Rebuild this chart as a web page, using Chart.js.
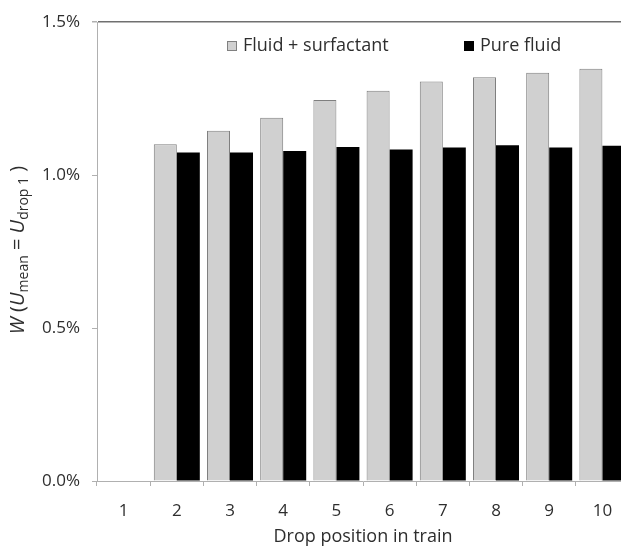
<!DOCTYPE html>
<html>
<head>
<meta charset="utf-8">
<script src="https://cdn.jsdelivr.net/npm/chart.js@4/dist/chart.umd.min.js"></script>
<style>
  html, body { margin: 0; padding: 0; background: #fff; overflow: hidden; }
  #wrap { width: 621px; height: 546px; overflow: hidden; position: relative; }
  canvas { display: block; }
</style>
</head>
<body>
<div id="wrap"><canvas id="c" width="640" height="546"></canvas></div>
<script>
// ---- data ----
const categories = ['1', '2', '3', '4', '5', '6', '7', '8', '9', '10'];
const seriesNames = ['Fluid + surfactant', 'Pure fluid'];
const surfactantValues = [null, 1.101, 1.145, 1.188, 1.246, 1.276, 1.306, 1.320, 1.335, 1.348];
const pureFluidValues = [null, 1.074, 1.074, 1.079, 1.092, 1.084, 1.090, 1.098, 1.090, 1.096];
const yTicks = [0, 0.5, 1.0, 1.5];
const xTitle = 'Drop position in train';

const FONT = '"Open Sans", "Noto Sans", sans-serif';
const TEXT = '#2e2e2e';

const legendPlugin = {
  id: 'insideLegend',
  afterDraw(chart) {
    const ctx = chart.ctx;
    const ds = chart.data.datasets;
    const items = [
      { x: 227, label: ds[0].label, fill: ds[0].backgroundColor, stroke: '#808080' },
      { x: 464, label: ds[1].label, fill: ds[1].backgroundColor, stroke: '#000' }
    ];
    const y = 46;
    ctx.save();
    ctx.font = '18px ' + FONT;
    ctx.textBaseline = 'middle';
    items.forEach(it => {
      ctx.fillStyle = it.fill;
      ctx.fillRect(it.x, y - 5, 10, 10);
      ctx.strokeStyle = it.stroke;
      ctx.lineWidth = 1;
      ctx.strokeRect(it.x + 0.5, y - 4.5, 9, 9);
      ctx.fillStyle = TEXT;
      ctx.textAlign = 'left';
      ctx.fillText(it.label, it.x + 16, y);
    });
    ctx.restore();
  }
};

const yTitlePlugin = {
  id: 'yTitle',
  afterDraw(chart) {
    const ctx = chart.ctx;
    const parts = [
      { t: 'W', style: 'italic', sub: false },
      { t: ' (', style: 'normal', sub: false },
      { t: 'U', style: 'italic', sub: false },
      { t: 'mean', style: 'normal', sub: true },
      { t: ' = ', style: 'normal', sub: false },
      { t: 'U', style: 'italic', sub: false },
      { t: 'drop 1', style: 'normal', sub: true },
      { t: ' )', style: 'normal', sub: false }
    ];
    const big = 20, small = 14;
    ctx.save();
    const fontOf = p => (p.style === 'italic' ? 'italic ' : '') + (p.sub ? small : big) + 'px ' + FONT;
    let total = 0;
    parts.forEach(p => { ctx.font = fontOf(p); p.w = ctx.measureText(p.t).width; total += p.w; });
    const cx = 18, cy = 250;
    ctx.translate(cx, cy);
    ctx.rotate(-Math.PI / 2);
    ctx.fillStyle = TEXT;
    ctx.textBaseline = 'middle';
    ctx.textAlign = 'left';
    let x = -total / 2;
    parts.forEach(p => {
      ctx.font = fontOf(p);
      ctx.fillText(p.t, x, p.sub ? 6 : 0);
      x += p.w;
    });
    ctx.restore();
  }
};

new Chart(document.getElementById('c'), {
  type: 'bar',
  data: {
    labels: categories,
    datasets: [
      {
        label: seriesNames[0],
        data: surfactantValues,
        backgroundColor: '#d0d0d0',
        borderColor: '#7f7f7f',
        borderWidth: 1,
        borderSkipped: 'bottom'
      },
      {
        label: seriesNames[1],
        data: pureFluidValues,
        backgroundColor: '#000000',
        borderColor: '#000000',
        borderWidth: 0
      }
    ]
  },
  options: {
    responsive: false,
    animation: false,
    layout: { padding: { left: 0, right: 11, top: 20, bottom: 0 } },
    plugins: {
      legend: { display: false },
      tooltip: { enabled: false }
    },
    datasets: {
      bar: { categoryPercentage: 0.865, barPercentage: 1.0 }
    },
    scales: {
      x: {
        offset: true,
        grid: {
          offset: true,
          drawOnChartArea: false,
          drawTicks: true,
          tickLength: 5,
          color: '#b0b0b0'
        },
        border: { color: '#b0b0b0', width: 1 },
        ticks: {
          font: { family: FONT, size: 17 },
          color: TEXT,
          padding: 15,
          maxRotation: 0
        },
        title: {
          display: true,
          text: xTitle,
          font: { family: FONT, size: 18 },
          color: TEXT,
          padding: { top: 0, bottom: -2 }
        },
        afterFit(scale) { scale.height = 65; }
      },
      y: {
        min: 0,
        max: 1.5,
        afterBuildTicks(scale) { scale.ticks = yTicks.map(v => ({ value: v })); },
        grid: {
          drawTicks: true,
          tickLength: 5,
          tickColor: '#b0b0b0',
          color: ctx => (ctx.tick && ctx.tick.value === 1.5 ? '#707070' : 'rgba(0,0,0,0)'),
          lineWidth: ctx => (ctx.tick && ctx.tick.value === 1.5 ? 1.5 : 1)
        },
        border: { color: '#b0b0b0', width: 1 },
        ticks: {
          font: { family: FONT, size: 17 },
          color: TEXT,
          padding: 12,
          callback: v => v.toFixed(1) + '%'
        },
        afterFit(scale) { scale.width = 97; }
      }
    }
  },
  plugins: [legendPlugin, yTitlePlugin]
});
</script>
</body>
</html>
